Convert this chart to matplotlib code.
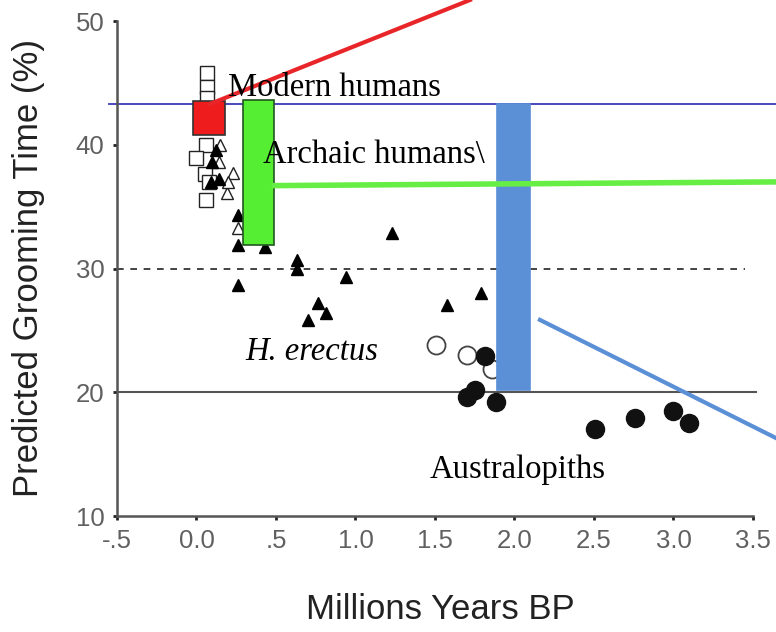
import matplotlib
matplotlib.use("Agg")
import matplotlib.pyplot as plt
from matplotlib.patches import Rectangle

# open squares (modern humans)
sq_x = [0.066, 0.066, 0.066, 0.06, 0.0, 0.055, 0.08, 0.06]
sq_y = [45.8, 44.7, 43.8, 40.0, 38.9, 37.6, 37.0, 35.5]

# open triangles (archaic humans)
otri_x = [0.15, 0.14, 0.19, 0.23, 0.20, 0.26]
otri_y = [40.0, 38.6, 36.1, 37.7, 37.0, 33.3]

# filled triangles (archaic humans + H. erectus)
tri_x = [0.12, 0.10, 0.09, 0.14, 0.26, 0.26, 0.26, 0.43,
         0.63, 0.63, 1.228, 0.94, 0.766, 0.814, 0.703, 1.574, 1.789]
tri_y = [39.6, 38.6, 37.0, 37.2, 34.3, 31.9, 28.7, 31.7,
         30.7, 30.0, 32.85, 29.3, 27.2, 26.4, 25.8, 27.06, 28.0]

# australopiths
ocirc_x = [1.506, 1.70, 1.86]
ocirc_y = [23.8, 23.0, 21.9]
circ_x = [1.814, 1.75, 1.70, 1.884, 2.506, 2.758, 3.00, 3.10]
circ_y = [22.9, 20.2, 19.6, 19.2, 17.0, 17.9, 18.5, 17.5]

# reference lines
modern_level = 43.3
erectus_level = 30.0
austr_level = 20.0

# boxes: (x0, x1, y0, y1)
red_box = (-0.02, 0.18, 40.8, 43.5)
green_box = (0.29, 0.49, 31.9, 43.6)
blue_box = (1.89, 2.10, 20.2, 43.3)

# trend lines
red_line_x = [0.085, 1.72]
red_line_y = [43.3, 51.7]
green_line_x = [0.49, 3.645]
green_line_y = [36.7, 37.0]
blue_line_x = [2.16, 3.645]
blue_line_y = [25.85, 16.3]

xticks = [-0.5, 0.0, 0.5, 1.0, 1.5, 2.0, 2.5, 3.0, 3.5]
xtick_labels = ['-.5', '0.0', '.5', '1.0', '1.5', '2.0', '2.5', '3.0', '3.5']
yticks = [10, 20, 30, 40, 50]

plt.rcParams['font.family'] = ['Liberation Sans', 'DejaVu Sans']

fig = plt.figure(figsize=(7.76, 6.32), dpi=100)
ax = fig.add_axes([117 / 776, 116 / 632, 659 / 776, 516 / 632])
ax.set_xlim(-0.5, 3.645)
ax.set_ylim(10, 51.7)

for s in ['top', 'right']:
    ax.spines[s].set_visible(False)
for s in ['left', 'bottom']:
    ax.spines[s].set_color('#555555')
    ax.spines[s].set_linewidth(1.8)
ax.spines['left'].set_bounds(10, 50)
ax.spines['bottom'].set_bounds(-0.5, 3.5)

ax.set_xticks(xticks, xtick_labels)
ax.set_yticks(yticks)
ax.tick_params(length=3, width=2, color='#222222', labelcolor='#606060',
               labelsize=18.5, pad=6)

# horizontal reference lines
ax.plot([-0.55, 3.645], [modern_level] * 2, color='#3a3ab8', lw=1.3, clip_on=False, zorder=2)
ax.plot([-0.5, 3.45], [erectus_level] * 2, color='#222222', lw=1.2, ls=(0, (4, 4)), zorder=2)
ax.plot([-0.5, 3.52], [austr_level] * 2, color='#555555', lw=1.5, zorder=2)

# points
ax.plot(sq_x, sq_y, 's', ms=10, mfc='white', mec='#222222', mew=1.0, zorder=3)
ax.plot(otri_x, otri_y, '^', ms=9, mfc='white', mec='#222222', mew=1.0, zorder=3)
ax.plot(tri_x, tri_y, '^', ms=9, color='black', zorder=3)
ax.plot(ocirc_x, ocirc_y, 'o', ms=13, mfc='white', mec='#444444', mew=1.3, zorder=3)
ax.plot(circ_x, circ_y, 'o', ms=13, color='#111111', zorder=3)

# boxes
for (x0, x1, y0, y1), fc, ec in [(red_box, '#ee1c1c', '#333333'),
                                  (green_box, '#55ee33', '#225522'),
                                  (blue_box, '#5b8fd6', '#5b8fd6')]:
    ax.add_patch(Rectangle((x0, y0), x1 - x0, y1 - y0, facecolor=fc,
                           edgecolor=ec, lw=1.2, zorder=4))

# trend lines
ax.plot(red_line_x, red_line_y, color='#e8262a', lw=3, clip_on=False, zorder=5)
ax.plot(green_line_x, green_line_y, color='#66ee44', lw=4, clip_on=False, zorder=5)
ax.plot(blue_line_x, blue_line_y, color='#5b8fd6', lw=3, clip_on=False, zorder=5)

serif = ['Liberation Serif', 'DejaVu Serif']
ax.text(0.198, 44.6, 'Modern humans', family=serif, fontsize=23.5, va='center', zorder=6)
ax.text(0.418, 39.2, 'Archaic humans\\', family=serif, fontsize=23.5, va='center', zorder=6)
ax.text(0.305, 23.3, 'H. erectus', family=serif, style='italic', fontsize=23.5, va='center', zorder=6)
ax.text(1.469, 13.7, 'Australopiths', family=serif, fontsize=23.5, va='center', zorder=6)

ax.set_ylabel('Predicted Grooming Time (%)', fontsize=25, color='#222222', va='center')
ax.yaxis.set_label_coords(-0.135, 0.48)
ax.set_xlabel('Millions Years BP', fontsize=25, color='#222222', va='center')
ax.xaxis.set_label_coords(0.49, -0.182)

fig.savefig('out.png', dpi=100)
